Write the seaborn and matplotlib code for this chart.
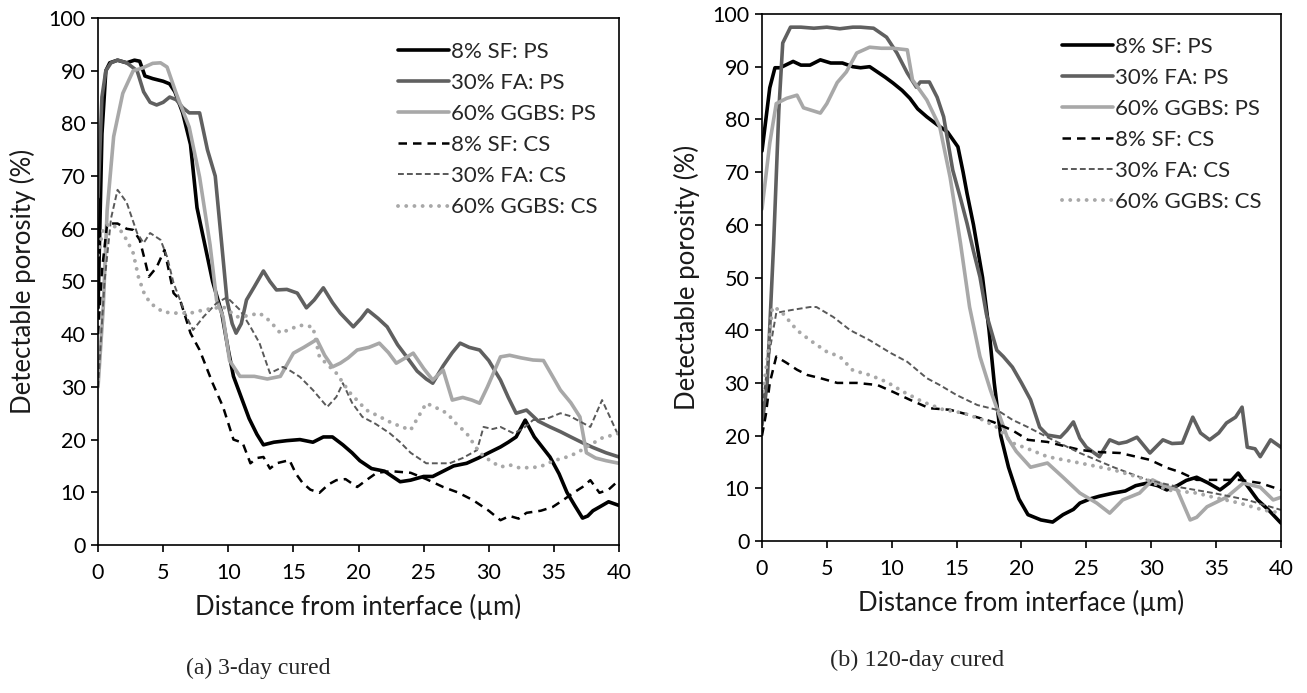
import matplotlib
matplotlib.use("Agg")
import matplotlib.pyplot as plt
import seaborn as sns

# ---------------- data: (a) 3-day cured ----------------
a_sf_ps_x = [0, 0.3, 0.6, 0.9, 1.5, 2.2, 2.8, 3.2, 3.6, 4.2, 5.0, 5.5, 5.9, 6.5, 7.1, 7.6, 8.2, 8.8, 9.5, 10.0, 10.4, 11.0, 11.6, 12.2, 12.7, 13.5, 14.5, 15.5, 16.5, 17.3, 18.0, 18.8, 19.5, 20.1, 21.0, 22.0, 23.2, 24.0, 25.0, 25.7, 26.5, 27.3, 28.3, 29.2, 30.0, 30.9, 31.5, 32.1, 32.8, 33.5, 34.7, 35.4, 36.0, 36.6, 37.2, 37.6, 38.0, 38.5, 39.2, 40]
a_sf_ps_y = [45, 78, 90, 91.5, 92, 91.5, 92, 91.8, 89, 88.5, 88, 87.5, 86, 82, 76, 64, 57, 50, 44, 37, 32, 28, 24, 21, 19, 19.5, 19.8, 20, 19.5, 20.5, 20.5, 19, 17.5, 16, 14.5, 14, 12, 12.3, 13, 13, 14, 15, 15.5, 16.5, 17.5, 18.6, 19.5, 20.5, 23.7, 20.5, 16.7, 13.5, 10, 7.5, 5.1, 5.5, 6.5, 7.2, 8.2, 7.5]

a_fa_ps_x = [0, 0.3, 0.6, 1.0, 1.5, 2.2, 3.0, 3.5, 4.0, 4.5, 5.0, 5.5, 6.0, 6.5, 7.0, 7.8, 8.4, 9.0, 9.5, 9.9, 10.3, 10.6, 11.0, 11.4, 12.0, 12.7, 13.2, 13.7, 14.5, 15.3, 16.0, 16.6, 17.3, 18.0, 18.6, 19.6, 20.2, 20.7, 21.5, 22.2, 23.0, 23.7, 24.5, 25.2, 25.7, 26.5, 27.2, 27.8, 28.5, 29.3, 30.0, 30.9, 31.5, 32.1, 32.9, 33.8, 34.7, 35.5, 36.3, 37.2, 38.0, 39.0, 40]
a_fa_ps_y = [66, 85, 90, 91.5, 92, 91.5, 90, 86, 84, 83.5, 84, 85, 84.5, 83, 82, 82, 75, 70, 57, 46.5, 42, 40.2, 42, 46.5, 49, 52, 50, 48.4, 48.5, 47.8, 45, 46.5, 48.8, 46, 44, 41.4, 43, 44.6, 43, 41.4, 38, 35.7, 33, 31.5, 30.7, 34, 36.5, 38.3, 37.5, 37, 35, 31.3, 28, 25, 25.6, 23.5, 22.4, 21.5, 20.5, 19.4, 18.5, 17.5, 16.7]

a_gg_ps_x = [0, 0.4, 0.7, 1.2, 1.9, 2.7, 3.4, 4.2, 4.8, 5.3, 6.0, 7.0, 7.8, 8.6, 9.1, 9.6, 10.1, 10.9, 12.0, 13.0, 14.0, 15.0, 15.8, 16.8, 17.4, 18.0, 18.6, 19.2, 19.9, 20.8, 21.6, 22.3, 22.9, 23.6, 24.2, 25.0, 25.7, 26.5, 27.2, 28.0, 28.7, 29.3, 29.9, 30.9, 31.6, 32.5, 33.4, 34.2, 34.9, 35.5, 36.3, 37.0, 37.5, 38.2, 39.0, 40]
a_gg_ps_y = [30, 45, 63.5, 77.5, 85.7, 90, 90.5, 91.4, 91.5, 90.7, 85.7, 79.3, 69.8, 57, 46.5, 43.3, 35, 32, 32, 31.5, 32, 36.4, 37.5, 39, 36, 33.8, 34.5, 35.5, 37, 37.5, 38.3, 36.5, 34.5, 35.5, 36.4, 33.5, 31.3, 33.2, 27.5, 28, 27.5, 26.9, 30, 35.7, 36, 35.5, 35.1, 35, 32, 29.4, 27, 24.3, 17.5, 16.5, 16, 15.5]

a_sf_cs_x = [0, 0.3, 0.7, 1.5, 2.2, 2.7, 3.2, 3.6, 3.9, 4.5, 5.1, 5.8, 6.3, 7.1, 7.8, 8.8, 9.6, 10.4, 11.1, 11.7, 12.2, 12.7, 13.2, 13.7, 14.7, 15.2, 15.7, 16.3, 17.0, 17.7, 18.3, 19.0, 19.9, 20.6, 21.4, 22.5, 24.0, 25.2, 26.5, 27.6, 28.8, 30.0, 30.9, 31.6, 32.3, 32.9, 34.0, 34.9, 35.7, 36.5, 37.2, 37.8, 38.5, 39.2, 40]
a_sf_cs_y = [40, 52, 61, 61, 60, 59.8, 57.9, 54, 50.9, 52.7, 56, 47.8, 46.5, 40.2, 37, 30.7, 26.2, 20, 19.4, 15.5, 16.5, 16.7, 14.5, 15.5, 16.1, 13.5, 11.8, 10.5, 9.9, 11.5, 12.3, 12.5, 11, 12.3, 13.7, 14, 13.7, 12.5, 11, 10, 8.5, 6.5, 4.7, 5.5, 5, 6.1, 6.5, 7.2, 8.5, 9.9, 11, 12.3, 9.9, 10.5, 12.3]

a_fa_cs_x = [0, 0.5, 1.0, 1.5, 2.2, 3.0, 3.5, 4.0, 4.8, 5.3, 5.8, 6.3, 6.8, 7.3, 8.1, 9.1, 9.9, 10.9, 11.7, 12.4, 13.2, 14.2, 14.8, 15.5, 16.5, 17.6, 18.3, 18.8, 19.5, 20.3, 21.3, 22.4, 23.2, 24.0, 25.2, 26.0, 27.0, 28.0, 29.1, 29.6, 30.3, 30.9, 31.9, 32.6, 33.4, 34.5, 35.5, 36.2, 36.8, 37.8, 38.7, 39.3, 40]
a_fa_cs_y = [30, 50, 62, 67.4, 65, 59.2, 57.3, 59.2, 57.9, 54.7, 49.7, 46.5, 43.3, 40.8, 43.3, 45.9, 47, 44.6, 41.4, 38.3, 32.6, 33.8, 33, 31.9, 29.4, 26.2, 28.1, 30.7, 27, 24.3, 23, 21.2, 19.5, 17.5, 15.5, 15.5, 15.5, 16.5, 18, 22.4, 22, 22.4, 21.2, 22, 23.7, 24, 25, 24.5, 23.7, 22.4, 27.5, 24.3, 20.5]

a_gg_cs_x = [0, 0.4, 0.9, 1.7, 2.2, 2.7, 3.1, 3.5, 4.0, 5.0, 6.0, 7.1, 8.1, 9.6, 10.7, 11.5, 12.4, 13.2, 14.0, 14.8, 15.5, 16.5, 17.0, 18.3, 19.3, 20.6, 21.5, 22.6, 24.0, 25.2, 26.0, 26.8, 27.5, 28.3, 29.3, 30.1, 30.9, 31.6, 32.4, 33.9, 35.0, 36.0, 36.8, 37.5, 38.7, 40]
a_gg_cs_y = [55, 60, 61, 59.8, 57.9, 55.4, 50.9, 48, 45.9, 44.2, 44, 44, 44.6, 45.2, 43.3, 43.5, 44, 42.5, 40.2, 41, 41.7, 41.4, 35.7, 32.6, 29, 25.6, 24.5, 23.1, 21.8, 26.9, 26, 25, 23, 21.2, 17.5, 16, 14.8, 15.2, 14.6, 14.8, 16, 16.7, 17.5, 18.6, 20.3, 21.2]

# ---------------- data: (b) 120-day cured ----------------
b_sf_ps_x = [0, 0.3, 0.6, 1.0, 1.4, 2.4, 3.0, 3.7, 4.5, 5.3, 6.2, 7.0, 7.6, 8.3, 8.9, 9.5, 10.1, 10.8, 11.4, 12.0, 12.7, 13.5, 14.3, 15.1, 15.5, 15.8, 16.3, 17.0, 17.5, 17.9, 18.4, 19.0, 19.8, 20.5, 21.5, 22.4, 23.2, 24.0, 24.5, 25.3, 26.0, 27.1, 28.0, 28.8, 29.7, 30.5, 31.2, 32.0, 32.7, 33.5, 34.4, 35.3, 36.0, 36.7, 37.4, 38.2, 39.0, 40]
b_sf_ps_y = [74, 80, 86, 89.8, 89.8, 91, 90.3, 90.3, 91.3, 90.7, 90.7, 90, 89.8, 90, 89, 88, 86.9, 85.5, 84, 82, 80.5, 79, 77.6, 74.8, 70, 66, 60, 50, 40, 30, 20, 14, 8, 5, 4, 3.6, 5, 6, 7.2, 8, 8.5, 9.1, 9.5, 10.5, 11, 10.5, 9.7, 10.5, 11.5, 12.1, 11, 9.7, 11, 12.9, 10.5, 7.8, 6, 3.4]

b_fa_ps_x = [0, 0.4, 0.9, 1.3, 1.6, 2.2, 3.0, 4.0, 5.0, 6.0, 7.0, 7.6, 8.6, 9.6, 10.4, 11.2, 11.9, 12.2, 12.9, 13.5, 14.0, 14.7, 15.3, 15.8, 16.3, 16.8, 17.3, 18.1, 18.6, 19.3, 20.0, 20.7, 21.4, 22.0, 23.0, 23.5, 24.0, 24.5, 25.0, 26.0, 26.8, 27.5, 28.1, 28.9, 29.9, 30.9, 31.6, 32.4, 33.2, 33.8, 34.5, 35.2, 35.8, 36.5, 37.0, 37.4, 38.0, 38.4, 39.2, 40]
b_fa_ps_y = [22, 30, 56.5, 81.8, 94.5, 97.5, 97.5, 97.3, 97.5, 97.2, 97.5, 97.5, 97.3, 95.6, 92.6, 88.8, 86.1, 87.1, 87.1, 84.2, 80.5, 70.4, 65, 60.3, 55, 50.1, 43, 36.2, 35, 33, 30, 26.8, 21.6, 20.1, 19.7, 21, 22.6, 19.5, 17.8, 16, 19.2, 18.5, 18.8, 19.7, 16.7, 19.2, 18.5, 18.6, 23.5, 20.5, 19.2, 20.5, 22.4, 23.5, 25.4, 17.8, 17.5, 16, 19.2, 17.8]

b_gg_ps_x = [0, 0.6, 1.1, 1.9, 2.7, 3.2, 4.5, 5.0, 5.8, 6.5, 7.3, 8.3, 9.2, 10.1, 11.2, 11.6, 12.7, 13.7, 14.5, 15.3, 16.0, 16.8, 17.6, 18.9, 19.6, 20.7, 22.0, 23.2, 24.5, 25.8, 26.8, 27.8, 29.1, 30.1, 31.0, 32.0, 33.0, 33.5, 34.3, 35.8, 37.1, 38.4, 39.4, 40]
b_gg_ps_y = [63, 75.5, 83, 84, 84.6, 82.2, 81.2, 83, 87, 89, 92.6, 93.7, 93.5, 93.5, 93.2, 87.5, 83.7, 78.6, 69, 56.5, 44.4, 35, 28.7, 19.7, 17, 14, 14.8, 12.1, 9.1, 7.2, 5.3, 7.8, 9.1, 11.6, 10.5, 9.7, 4, 4.5, 6.5, 8.3, 11, 10.2, 7.8, 8.3]

b_sf_cs_x = [0, 0.3, 0.6, 1.1, 1.9, 2.7, 3.5, 4.5, 5.8, 7.3, 8.9, 10.1, 11.4, 12.9, 14.5, 16.0, 17.8, 19.3, 20.5, 22.0, 24.5, 25.8, 27.6, 29.9, 31.2, 32.2, 33.5, 35.1, 36.8, 38.4, 40]
b_sf_cs_y = [20, 24, 30, 35, 33.8, 32.5, 31.5, 30.9, 30, 30, 29.6, 28.3, 26.8, 25.2, 24.9, 23.9, 22.6, 21, 19.2, 18.8, 17.3, 16.9, 16.7, 15.4, 13.9, 13.1, 11.6, 11.6, 11.6, 11, 9.7]

b_fa_cs_x = [0, 0.6, 1.1, 2.2, 3.7, 4.2, 5.5, 6.8, 8.3, 9.9, 11.2, 12.7, 13.7, 15.0, 16.6, 18.1, 19.3, 20.5, 22.0, 24.5, 27.1, 29.7, 32.2, 34.8, 37.4, 40]
b_fa_cs_y = [25.4, 36.2, 43.3, 43.8, 44.4, 44.4, 42.5, 40, 38.1, 35.7, 34, 30.9, 29.6, 27.7, 25.8, 24.9, 23, 21.6, 19.7, 16.7, 14, 11.6, 10.2, 9.1, 7.8, 5.9]

b_gg_cs_x = [0, 0.5, 0.8, 1.4, 2.7, 3.7, 5.0, 6.0, 7.0, 8.3, 9.6, 10.9, 12.4, 14.0, 15.5, 17.0, 18.1, 19.3, 20.5, 22.0, 24.5, 27.1, 29.7, 31.2, 33.5, 34.8, 36.8, 38.6, 40]
b_gg_cs_y = [26.8, 36.2, 44.4, 43.8, 40, 38.1, 35.9, 35, 32.4, 31.5, 30.2, 28.3, 26.4, 24.9, 24.3, 23, 21.6, 18.6, 17.5, 16, 14.8, 13.5, 11.6, 9.7, 9.1, 8.3, 7.2, 5.9, 5.3]

labels = ["8% SF: PS", "30% FA: PS", "60% GGBS: PS", "8% SF: CS", "30% FA: CS", "60% GGBS: CS"]
x_ticks = [0, 5, 10, 15, 20, 25, 30, 35, 40]
y_ticks = [0, 10, 20, 30, 40, 50, 60, 70, 80, 90, 100]
x_label = "Distance from interface (µm)"
y_label = "Detectable porosity (%)"
captions = ["(a) 3-day cured", "(b) 120-day cured"]

panel_a = [(a_sf_ps_x, a_sf_ps_y), (a_fa_ps_x, a_fa_ps_y), (a_gg_ps_x, a_gg_ps_y),
           (a_sf_cs_x, a_sf_cs_y), (a_fa_cs_x, a_fa_cs_y), (a_gg_cs_x, a_gg_cs_y)]
panel_b = [(b_sf_ps_x, b_sf_ps_y), (b_fa_ps_x, b_fa_ps_y), (b_gg_ps_x, b_gg_ps_y),
           (b_sf_cs_x, b_sf_cs_y), (b_fa_cs_x, b_fa_cs_y), (b_gg_cs_x, b_gg_cs_y)]

styles = [
    dict(color="#000000", lw=2.6, linestyle="-"),
    dict(color="#606060", lw=2.6, linestyle="-"),
    dict(color="#a8a8a8", lw=2.6, linestyle="-"),
    dict(color="#000000", lw=1.8, linestyle=(0, (3.4, 2.4))),
    dict(color="#595959", lw=1.4, linestyle=(0, (3.0, 1.6))),
    dict(color="#a8a8a8", lw=2.8, linestyle=(0, (0.01, 2.1)), dash_capstyle="round"),
]

sns.set_theme(style="white")
plt.rcParams["font.family"] = ["Lato", "DejaVu Sans"]

fig = plt.figure(figsize=(13.07, 6.93), dpi=100)
ax_a = fig.add_axes([0.075, 0.2136, 0.3986, 0.7604])
ax_b = fig.add_axes([0.583, 0.2193, 0.3971, 0.7605])

for ax, data, leg_x, leg_y in [(ax_a, panel_a, 0.576, 0.955), (ax_b, panel_b, 0.578, 0.957)]:
    for (xs, ys), st, lab in zip(data, styles, labels):
        sns.lineplot(x=xs, y=ys, ax=ax, label=lab, estimator=None, sort=False, **st)
    ax.set_xlim(0, 40)
    ax.set_ylim(0, 100)
    ax.set_xticks(x_ticks)
    ax.set_yticks(y_ticks)
    ax.tick_params(axis="both", direction="out", length=5, width=1.2, colors="black",
                   labelsize=15.5, bottom=True, left=True)
    ax.tick_params(axis="x", pad=8)
    ax.tick_params(axis="y", pad=4)
    for s in ax.spines.values():
        s.set_visible(True)
        s.set_color("black")
        s.set_linewidth(1.2)
    ax.set_xlabel(x_label, fontsize=18.5, color="#1a1a1a", labelpad=8)
    ax.set_ylabel(y_label, fontsize=18.5, color="#1a1a1a", labelpad=9)
    ax.grid(False)
    ax.legend(loc="upper left", bbox_to_anchor=(leg_x, leg_y), frameon=False,
              fontsize=16, handlelength=2.3, handletextpad=0.1, labelspacing=0.5,
              borderpad=0, borderaxespad=0)

fig.text(0.142, 0.036, captions[0], fontsize=17, family="Liberation Serif", ha="left", va="center")
fig.text(0.635, 0.047, captions[1], fontsize=17.5, family="Liberation Serif", ha="left", va="center")

fig.savefig("out.png", dpi=100)
